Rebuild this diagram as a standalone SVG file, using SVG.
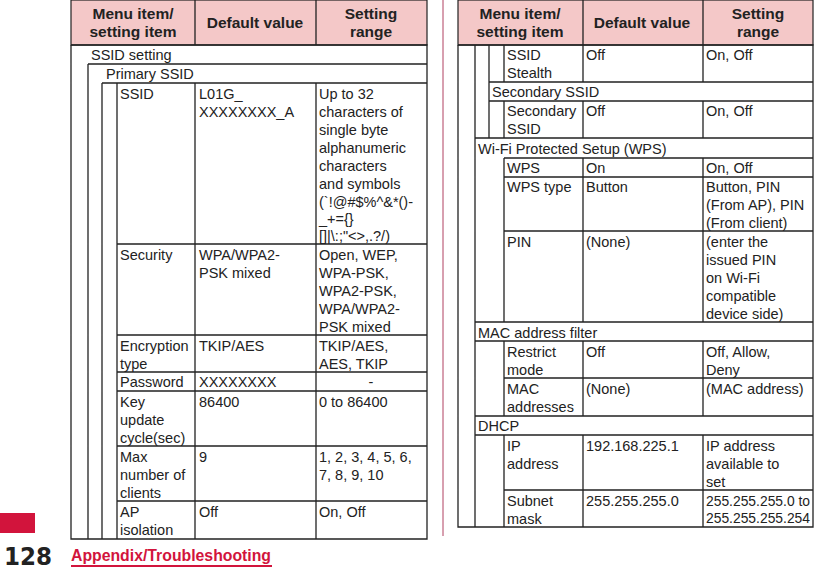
<svg xmlns="http://www.w3.org/2000/svg" width="815" height="569" viewBox="0 0 815 569">
<style>
text{font-family:"Liberation Sans","Noto Sans",sans-serif;font-size:14.5px;fill:#222}
.h{font-size:15.5px;font-weight:bold;text-anchor:middle}
.hd{fill:#f4c8c8;stroke:#222;stroke-width:1.2}
.l{stroke:#222;stroke-width:1.3;fill:none}
</style>
<rect width="815" height="569" fill="#fff"/>
<line x1="443" y1="0" x2="443" y2="536" stroke="#b04060" stroke-width="1"/>
<g id="left">
<rect class="hd" x="71" y="0" width="356" height="45"/>
<path class="l" d="M195 0V45M316 0V45"/>
<text class="h" x="133" y="19">Menu item/</text><text class="h" x="133" y="37">setting item</text>
<text class="h" x="255" y="28">Default value</text>
<text class="h" x="371" y="19">Setting</text><text class="h" x="371" y="37">range</text>
<path class="l" d="M71 45V539H427V45H71M88 64V539M88 64H427M102 83V539M102 83H427M117 83V539M195 83V539M316 83V539M117 244H427M117 335H427M117 372H427M117 391H427M117 446H427M117 501H427"/>
<text x="91" y="60">SSID setting</text>
<text x="106" y="79">Primary SSID</text>
<text x="120" y="99">SSID</text>
<text x="199" y="99">L01G_</text><text x="199" y="117">XXXXXXXX_A</text>
<text x="319" y="99">Up to 32</text><text x="319" y="117">characters of</text><text x="319" y="135">single byte</text><text x="319" y="153">alphanumeric</text><text x="319" y="171">characters</text><text x="319" y="189">and symbols</text><text x="319" y="207" font-size="13">(`!@#$%^&amp;*()-</text><text x="319" y="224" font-size="13">_+={}</text><text x="319" y="241" font-size="13">[]|\:;"&lt;&gt;,.?/)</text>
<text x="120" y="260">Security</text>
<text x="199" y="260">WPA/WPA2-</text><text x="199" y="278">PSK mixed</text>
<text x="319" y="260">Open, WEP,</text><text x="319" y="278">WPA-PSK,</text><text x="319" y="296">WPA2-PSK,</text><text x="319" y="314">WPA/WPA2-</text><text x="319" y="332">PSK mixed</text>
<text x="120" y="351">Encryption</text><text x="120" y="369">type</text>
<text x="199" y="351">TKIP/AES</text>
<text x="319" y="351">TKIP/AES,</text><text x="319" y="369">AES, TKIP</text>
<text x="120" y="387">Password</text><text x="199" y="387">XXXXXXXX</text><text x="371" y="387" text-anchor="middle">-</text>
<text x="120" y="407">Key</text><text x="120" y="425">update</text><text x="120" y="443">cycle(sec)</text>
<text x="199" y="407">86400</text><text x="319" y="407">0 to 86400</text>
<text x="120" y="462">Max</text><text x="120" y="480">number of</text><text x="120" y="498">clients</text>
<text x="199" y="462">9</text><text x="319" y="462">1, 2, 3, 4, 5, 6,</text><text x="319" y="480">7, 8, 9, 10</text>
<text x="120" y="517">AP</text><text x="120" y="535">isolation</text>
<text x="199" y="517">Off</text><text x="319" y="517">On, Off</text>
</g>
<g id="right">
<rect class="hd" x="458" y="0" width="355" height="45"/>
<path class="l" d="M583 0V45M703 0V45"/>
<text class="h" x="520" y="19">Menu item/</text><text class="h" x="520" y="37">setting item</text>
<text class="h" x="642" y="28">Default value</text>
<text class="h" x="758" y="19">Setting</text><text class="h" x="758" y="37">range</text>
<path class="l" d="M458 45V527H813V45H458M475 45V527M489 45V138M504 45V82M504 101V138M504 158V322M504 341V416M504 435V527M583 45V82M583 101V138M583 158V322M583 341V416M583 435V527M703 45V82M703 101V138M703 158V322M703 341V416M703 435V527M489 82H813M489 101H813M475 138H813M504 158H813M504 177H813M504 231H813M475 322H813M475 341H813M504 378H813M475 416H813M475 435H813M504 490H813"/>
<text x="507" y="60">SSID</text><text x="507" y="78">Stealth</text><text x="586" y="60">Off</text><text x="706" y="60">On, Off</text>
<text x="492" y="97">Secondary SSID</text>
<text x="507" y="116">Secondary</text><text x="507" y="134">SSID</text><text x="586" y="116">Off</text><text x="706" y="116">On, Off</text>
<text x="478" y="154">Wi-Fi Protected Setup (WPS)</text>
<text x="507" y="173">WPS</text><text x="586" y="173">On</text><text x="706" y="173">On, Off</text>
<text x="507" y="192">WPS type</text><text x="586" y="192">Button</text><text x="706" y="192">Button, PIN</text><text x="706" y="210">(From AP), PIN</text><text x="706" y="228">(From client)</text>
<text x="507" y="247">PIN</text><text x="586" y="247">(None)</text><text x="706" y="247">(enter the</text><text x="706" y="265">issued PIN</text><text x="706" y="283">on Wi-Fi</text><text x="706" y="301">compatible</text><text x="706" y="319">device side)</text>
<text x="478" y="338">MAC address filter</text>
<text x="507" y="357">Restrict</text><text x="507" y="375">mode</text><text x="586" y="357">Off</text><text x="706" y="357">Off, Allow,</text><text x="706" y="375">Deny</text>
<text x="507" y="394">MAC</text><text x="507" y="412">addresses</text><text x="586" y="394">(None)</text><text x="706" y="394">(MAC address)</text>
<text x="478" y="431">DHCP</text>
<text x="507" y="451">IP</text><text x="507" y="469">address</text><text x="586" y="451">192.168.225.1</text><text x="706" y="451">IP address</text><text x="706" y="469">available to</text><text x="706" y="487">set</text>
<text x="507" y="506">Subnet</text><text x="507" y="524">mask</text><text x="586" y="506">255.255.255.0</text><text x="706" y="506" font-size="12" textLength="104" lengthAdjust="spacingAndGlyphs">255.255.255.0 to</text><text x="706" y="523" font-size="12" textLength="104" lengthAdjust="spacingAndGlyphs">255.255.255.254</text>
</g>
<g id="footer">
<rect x="0" y="513" width="35" height="20" fill="#d2143c"/>
<text x="4" y="565" style="font-family:'Liberation Sans Narrow','DejaVu Sans Condensed',sans-serif;font-size:25px;font-weight:bold;fill:#222" textLength="48" lengthAdjust="spacingAndGlyphs">128</text>
<text x="71" y="561" style="font-size:16px;font-weight:bold;fill:#d2143c" textLength="200" lengthAdjust="spacingAndGlyphs">Appendix/Troubleshooting</text>
<line x1="71" y1="566" x2="272" y2="566" stroke="#d2143c" stroke-width="2"/>
</g>
</svg>
